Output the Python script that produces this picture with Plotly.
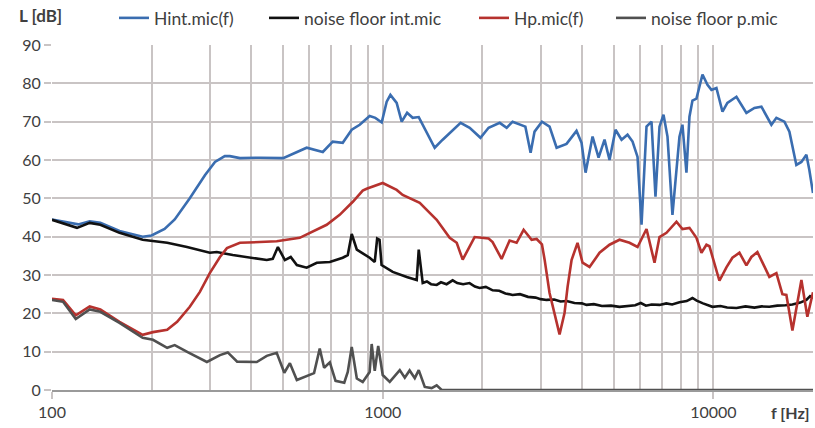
import plotly.graph_objects as go
import math

# ---------------- data (frequency in Hz, level in dB) ----------------
hint_f = [100, 110, 120, 130, 140, 160, 188, 200, 219, 235, 261, 290, 311, 333, 345, 370, 425, 500,
          561, 589, 659, 706, 757, 806, 852, 913, 950, 993, 1028, 1055, 1102, 1141, 1185, 1232, 1285,
          1350, 1436, 1518, 1594, 1720, 1832, 1975, 2090, 2258, 2370, 2470, 2700, 2800, 2878, 3030,
          3195, 3356, 3596, 3855, 3992, 4105, 4310, 4494, 4685, 4851, 5057, 5274, 5499, 5694, 5895,
          6061, 6275, 6497, 6680, 6869, 7063, 7262, 7517, 7893, 8059, 8286, 8462, 8641, 8884, 9265,
          9592, 9863, 10210, 10650, 11020, 11737, 12580, 13300, 13965, 14970, 15500, 16390, 16970,
          17810, 18450, 19100, 19500, 20000]
hint_L = [44.5, 43.8, 43.2, 44.0, 43.6, 41.5, 40.0, 40.3, 42.0, 44.5, 50.0, 56.0, 59.5, 61.0, 61.0,
          60.5, 60.6, 60.5, 62.5, 63.2, 62.1, 64.8, 64.5, 67.9, 69.2, 71.5, 71.0, 69.8, 75.2, 77.0,
          74.9, 70.0, 72.3, 71.0, 71.2, 67.5, 63.2, 65.3, 67.1, 69.7, 68.4, 65.8, 68.4, 69.7, 68.4,
          70.0, 68.7, 61.9, 67.4, 70.0, 68.7, 63.2, 64.2, 67.6, 64.5, 56.7, 66.1, 60.6, 65.3, 60.0,
          67.9, 65.3, 66.6, 64.8, 60.8, 43.1, 68.7, 70.0, 50.4, 68.7, 71.8, 66.1, 45.7, 66.1, 69.2,
          56.7, 71.3, 75.5, 76.0, 82.3, 79.6, 78.3, 78.8, 72.6, 74.9, 76.5, 72.3, 73.6, 73.9, 69.2,
          71.0, 70.0, 67.4, 58.7, 59.5, 61.4, 57.4, 51.4]

nint_f = [100, 119, 130, 140, 160, 188, 223, 256, 300, 315, 352, 397, 446, 465, 482, 506, 527, 550,
          589, 632, 692, 757, 784, 806, 835, 913, 946, 962, 978, 992, 1072, 1182, 1267, 1285, 1321,
          1360, 1400, 1456, 1500, 1560, 1627, 1680, 1750, 1830, 1900, 1963, 2050, 2150, 2250, 2350,
          2470, 2600, 2750, 2900, 3000, 3130, 3300, 3450, 3600, 3800, 4000, 4133, 4350, 4600, 4900,
          5200, 5500, 5800, 6030, 6250, 6500, 6869, 7200, 7500, 7893, 8300, 8641, 8900, 9300, 9931,
          10500, 11000, 11737, 12500, 13300, 14000, 14760, 15600, 16500, 17330, 18300, 19100, 19600,
          20000]
nint_L = [44.4, 42.3, 43.6, 43.1, 41.0, 39.2, 38.4, 37.3, 35.8, 36.0, 35.2, 34.5, 33.9, 34.2, 37.3,
          33.9, 34.7, 32.6, 31.9, 33.2, 33.4, 34.5, 35.2, 40.7, 36.6, 34.5, 33.4, 39.5, 39.2, 32.6,
          30.8, 29.5, 28.7, 36.6, 27.9, 28.3, 27.6, 27.4, 28.1, 27.6, 28.6, 27.9, 27.6, 27.9, 27.0,
          26.6, 26.9, 26.0, 25.9, 25.2, 24.8, 25.0, 24.3, 24.1, 23.7, 23.5, 23.6, 23.1, 23.2, 22.7,
          22.6, 22.2, 22.4, 21.9, 22.0, 21.7, 21.9, 22.1, 22.7, 22.0, 22.3, 22.2, 22.6, 22.3, 22.9,
          23.2, 24.0, 23.3, 22.6, 21.7, 21.9, 21.5, 21.4, 21.8, 21.5, 21.8, 21.7, 22.0, 22.1, 22.3,
          22.8, 23.5, 24.5, 24.0]

hp_f = [100, 108, 118, 130, 140, 160, 188, 202, 223, 239, 261, 280, 300, 322, 338, 370, 425, 478,
        561, 602, 677, 741, 812, 870, 894, 1000, 1102, 1149, 1232, 1294, 1387, 1456, 1594, 1674,
        1745, 1896, 2090, 2149, 2288, 2419, 2540, 2667, 2820, 2920, 3030, 3087, 3195, 3307, 3425,
        3546, 3622, 3724, 3882, 4020, 4221, 4525, 4750, 4851, 5200, 5575, 5895, 6275, 6635, 6869,
        7211, 7731, 8059, 8462, 8884, 9199, 9524, 9725, 10425, 10945, 11412, 11983, 12580, 13025,
        13580, 14060, 14760, 15500, 16160, 16615, 17330, 18450, 19230, 20000]
hp_L = [23.8, 23.5, 19.5, 21.8, 21.0, 17.8, 14.4, 15.1, 15.7, 17.8, 21.7, 25.6, 30.5, 34.7, 37.0,
        38.4, 38.6, 38.8, 39.7, 41.0, 43.1, 45.7, 49.1, 52.0, 52.5, 54.0, 52.2, 50.9, 49.6, 48.8,
        46.2, 44.4, 39.7, 38.4, 34.0, 39.9, 39.5, 38.6, 34.2, 39.0, 38.4, 41.8, 39.2, 39.4, 38.0,
        34.0, 25.3, 20.1, 14.5, 20.1, 26.9, 33.9, 38.4, 33.2, 32.1, 35.8, 37.3, 37.9, 39.2, 38.4,
        37.3, 42.0, 33.2, 39.9, 41.0, 43.9, 42.0, 42.3, 39.7, 35.8, 37.9, 37.5, 28.5, 32.0, 34.5,
        35.8, 32.5, 34.7, 36.0, 33.2, 29.5, 30.5, 25.0, 24.8, 15.5, 28.7, 19.1, 25.5]

np_f = [100, 108, 118, 130, 140, 160, 188, 202, 223, 235, 258, 294, 322, 340, 363, 416, 446, 478,
        504, 524, 550, 600, 620, 645, 665, 692, 720, 765, 784, 806, 835, 870, 913, 926, 946, 969,
        1000, 1050, 1126, 1166, 1206, 1250, 1285, 1340, 1406, 1456, 1508, 2000, 20000]
np_L = [23.5, 23.0, 18.5, 21.0, 20.4, 17.5, 13.6, 13.1, 11.0, 11.7, 9.8, 7.3, 9.1, 9.8, 7.4, 7.3,
        8.9, 9.7, 4.5, 7.0, 2.6, 3.8, 4.4, 10.8, 5.8, 7.2, 2.4, 1.9, 4.7, 11.2, 3.0, 2.1, 4.7, 12.0,
        5.0, 11.5, 3.9, 2.1, 5.2, 3.2, 5.1, 3.1, 5.2, 0.8, 0.5, 1.2, 0.0, 0.0, 0.0]

series_names = ["Hint.mic(f)", "noise floor int.mic", "Hp.mic(f)", "noise floor p.mic"]
x_major = [100, 1000, 10000]
x_minor = [200, 300, 400, 500, 600, 700, 800, 900, 2000, 3000, 4000, 5000, 6000, 7000, 8000,
           9000, 20000]
y_ticks = [0, 10, 20, 30, 40, 50, 60, 70, 80, 90]

# ---------------- figure ----------------
W, H = 815, 428
ML, MR, MT, MB = 52, 2, 45, 38
FONT = "Lato"
TXT = "#404040"
GRID = "#c9c4c4"

colors = ["#3a6db0", "#111111", "#b6322e", "#505050"]
data = [(hint_f, hint_L), (nint_f, nint_L), (hp_f, hp_L), (np_f, np_L)]
legend_ids = ["legend", "legend2", "legend3", "legend4"]
legend_x_page = [114, 264, 474, 611]

pw = W - ML - MR
ph = H - MT - MB

fig = go.Figure()
for (fx, ly), name, c, lid in zip(data, series_names, colors, legend_ids):
    fig.add_trace(go.Scatter(x=fx, y=ly, mode="lines", name=name, legend=lid,
                             line=dict(color=c, width=2.6)))

legends = {}
for lid, px in zip(legend_ids, legend_x_page):
    legends[lid] = dict(x=(px - ML) / pw, y=1.0 + MT / ph,
                        xanchor="left", yanchor="top", orientation="h",
                        font=dict(family=FONT, size=17.5, color=TXT),
                        bgcolor="rgba(0,0,0,0)", borderwidth=0)

fig.update_layout(
    width=W, height=H,
    margin=dict(l=ML, r=MR, t=MT, b=MB, autoexpand=False),
    paper_bgcolor="white", plot_bgcolor="white",
    showlegend=True,
    **legends,
    xaxis=dict(type="log", range=[2, math.log10(20000)],
               tickmode="array", tickvals=x_major, ticktext=[str(v) for v in x_major],
               ticks="outside", ticklen=7, tickcolor=GRID, tickwidth=1.5,
               showgrid=True, gridcolor=GRID, gridwidth=1.5,
               minor=dict(tickmode="array", tickvals=x_minor, showgrid=True,
                          gridcolor=GRID, gridwidth=1.5, ticks=""),
               showline=True, linecolor="#9a9a9a", linewidth=2,
               tickfont=dict(family=FONT, size=16, color=TXT),
               zeroline=False, fixedrange=True, automargin=False),
    yaxis=dict(range=[0, 90], tickmode="array", tickvals=y_ticks,
               ticks="outside", ticklen=7, tickcolor=GRID, tickwidth=1.5,
               showgrid=True, gridcolor=GRID, gridwidth=1.5,
               showline=False, zeroline=False,
               tickfont=dict(family=FONT, size=16, color=TXT), fixedrange=True,
               automargin=False),
    annotations=[
        dict(text="<b>L [dB]</b>", xref="paper", yref="paper", x=(17 - ML) / pw,
             y=1 + (MT - 15) / ph,
             xanchor="left", yanchor="middle", showarrow=False,
             font=dict(family=FONT, size=17, color=TXT)),
        dict(text="<b>f [Hz]</b>", xref="paper", yref="paper", x=(812 - ML) / pw, y=-11 / ph,
             xanchor="right", yanchor="top", showarrow=False,
             font=dict(family=FONT, size=16, color=TXT)),
    ],
)

fig.write_html("out.html", config={"displayModeBar": False},
               post_script="document.body.style.margin='0px';")
